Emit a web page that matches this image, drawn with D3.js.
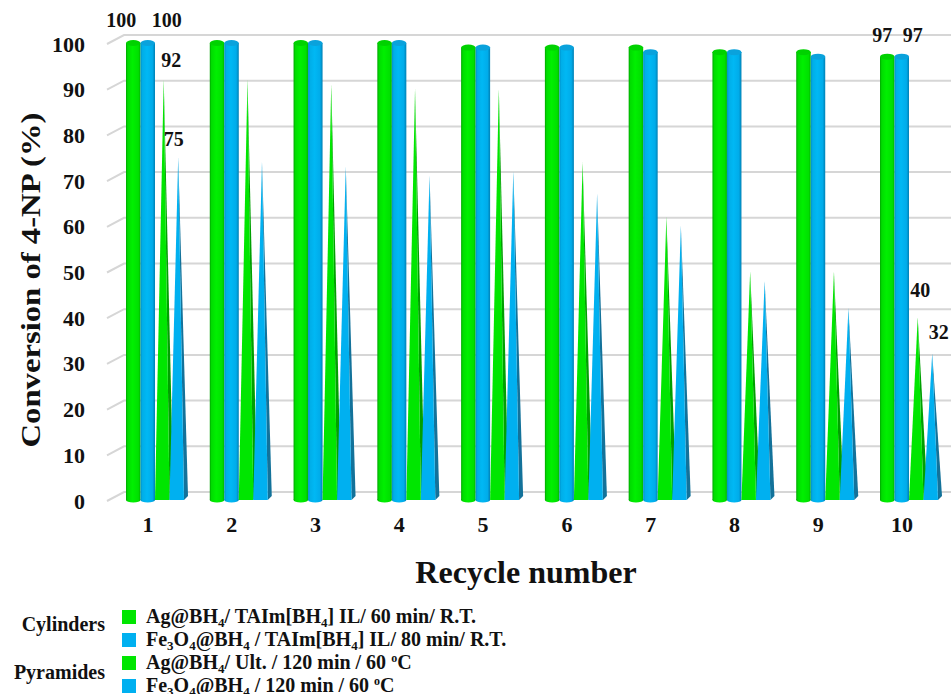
<!DOCTYPE html>
<html>
<head>
<meta charset="utf-8">
<script src="https://cdn.jsdelivr.net/npm/d3@7/dist/d3.min.js"></script>
<style>
  body { margin: 0; background: #fff; }
  text { font-family: "Liberation Serif", "DejaVu Serif", serif; font-weight: bold; fill: #111; }
</style>
</head>
<body>
<div id="chart"></div>
<script>
// data
var cycles = ["1", "2", "3", "4", "5", "6", "7", "8", "9", "10"];
var agCylinder = [100, 100, 100, 100, 99, 99, 99, 98, 98, 97];
var feCylinder = [100, 100, 100, 100, 99, 99, 98, 98, 97, 97];
var agPyramid = [92, 92, 91, 90, 90, 74, 62, 50, 50, 40];
var fePyramid = [75, 74, 73, 71, 72, 67, 60, 48, 42, 32];
var yTicks = [0, 10, 20, 30, 40, 50, 60, 70, 80, 90, 100];

var svgWidth = 951;
var svgHeight = 694;

var svg = d3.select("#chart")
  .append("svg")
  .attr("width", svgWidth)
  .attr("height", svgHeight);

var floorY = 500;

var yScale = d3.scaleLinear()
  .domain([0, 100])
  .range([floorY, 43]);

var xScale = d3.scaleBand()
  .domain(cycles)
  .range([126, 942])
  .paddingInner(0.26);

var sub = d3.scaleBand()
  .domain(["agC", "feC", "agP", "feP"])
  .range([0, 58]);

// gradients for the 3D look
var defs = svg.append("defs");
function hGrad(id, stops) {
  var g = defs.append("linearGradient").attr("id", id)
    .attr("x1", "0%").attr("x2", "100%").attr("y1", "0%").attr("y2", "0%");
  stops.forEach(function(s) {
    g.append("stop").attr("offset", s[0]).attr("stop-color", s[1]);
  });
}
hGrad("gCyl", [["0%", "#00a400"], ["12%", "#00dc00"], ["45%", "#00f000"], ["85%", "#00e000"], ["100%", "#00b400"]]);
hGrad("bCyl", [["0%", "#0090c8"], ["14%", "#00aee8"], ["45%", "#00b8f4"], ["82%", "#00acea"], ["100%", "#0080b4"]]);

// back-wall gridlines with the little floor diagonal on the left
svg.append("g").selectAll("path")
  .data(yTicks)
  .enter()
  .append("path")
  .attr("d", d => `M107,${yScale(d) + 1} L124,${yScale(d) - 8} H${svgWidth}`)
  .attr("fill", "none")
  .attr("stroke", "#d6d6d6")
  .attr("stroke-width", 2);

// axes
var leftAxis = d3.axisLeft(yScale).tickValues(yTicks).tickSize(0).tickPadding(0);
var yAxis = svg.append("g")
  .attr("transform", "translate(85, 1)")
  .call(leftAxis);
yAxis.select(".domain").remove();
yAxis.selectAll("text")
  .style("font-family", "Liberation Serif, serif")
  .style("font-weight", "bold")
  .style("font-size", "22px")
  .attr("fill", "#111");

var bottomAxis = d3.axisBottom(xScale).tickSize(0).tickPadding(0);
var xAxis = svg.append("g")
  .attr("transform", "translate(-9, 516)")
  .call(bottomAxis);
xAxis.select(".domain").remove();
xAxis.selectAll("text")
  .style("font-family", "Liberation Serif, serif")
  .style("font-weight", "bold")
  .style("font-size", "22px")
  .attr("fill", "#111");

// cylinders
function drawCylinders(values, key, fill, capFill) {
  var w = sub.bandwidth();
  var g = svg.append("g");
  values.forEach(function(v, i) {
    var x0 = xScale(cycles[i]) + sub(key);
    g.append("ellipse")
      .attr("cx", x0 + w / 2).attr("cy", floorY)
      .attr("rx", w / 2).attr("ry", 2.5)
      .attr("fill", `url(#${fill})`);
    g.append("rect")
      .attr("x", x0).attr("y", yScale(v))
      .attr("width", w).attr("height", floorY - yScale(v))
      .attr("fill", `url(#${fill})`);
    g.append("ellipse")
      .attr("cx", x0 + w / 2).attr("cy", yScale(v))
      .attr("rx", w / 2).attr("ry", 3)
      .attr("fill", capFill);
  });
}
drawCylinders(agCylinder, "agC", "gCyl", "#00d200");
drawCylinders(feCylinder, "feC", "bCyl", "#0aa2dc");

// pyramids: front face plus a darker right face
function drawPyramids(values, key, front, side) {
  var w = sub.bandwidth();
  var g = svg.append("g");
  values.forEach(function(v, i) {
    var x0 = xScale(cycles[i]) + sub(key);
    var tipX = x0 + w * 0.6;
    var tipY = yScale(v);
    g.append("path")
      .attr("d", `M${x0 + w},${floorY} L${x0 + w + 4},${floorY - 4} L${tipX},${tipY} Z`)
      .attr("fill", side);
    g.append("path")
      .attr("d", `M${x0},${floorY} L${x0 + w},${floorY} L${tipX},${tipY} Z`)
      .attr("fill", front);
  });
}
drawPyramids(agPyramid, "agP", "#00e600", "#00a000");
drawPyramids(fePyramid, "feP", "#00b0f0", "#13729a");

// value labels on first and last cycle
var labels = [
  { series: agCylinder, key: "agC", i: 0, dx: -12, dy: -16 },
  { series: feCylinder, key: "feC", i: 0, dx: 19, dy: -16 },
  { series: agPyramid, key: "agP", i: 0, dx: 9, dy: -13 },
  { series: fePyramid, key: "feP", i: 0, dx: -3, dy: -11 },
  { series: agCylinder, key: "agC", i: 9, dx: -5, dy: -15 },
  { series: feCylinder, key: "feC", i: 9, dx: 11, dy: -15 },
  { series: agPyramid, key: "agP", i: 9, dx: 4, dy: -20 },
  { series: fePyramid, key: "feP", i: 9, dx: 8, dy: -15 }
];
svg.append("g").selectAll("text")
  .data(labels)
  .enter()
  .append("text")
  .attr("x", d => xScale(cycles[d.i]) + sub(d.key) + sub.bandwidth() / 2 + d.dx)
  .attr("y", d => yScale(d.series[d.i]) + d.dy)
  .attr("text-anchor", "middle")
  .style("font-size", "20px")
  .text(d => d.series[d.i]);

// axis titles
svg.append("text")
  .attr("transform", "translate(40, 280) rotate(-90)")
  .attr("text-anchor", "middle")
  .attr("textLength", 335)
  .attr("lengthAdjust", "spacingAndGlyphs")
  .style("font-size", "28px")
  .text("Conversion of 4-NP (%)");

svg.append("text")
  .attr("x", 526)
  .attr("y", 583)
  .attr("text-anchor", "middle")
  .style("font-size", "32px")
  .text("Recycle number");

// legend
var legendRows = [
  { color: "#00e600", parts: [["Ag@BH"], ["4", "sub"], ["/ TAIm[BH"], ["4", "sub"], ["] IL/ 60 min/ R.T."]] },
  { color: "#00b0f0", parts: [["Fe"], ["3", "sub"], ["O"], ["4", "sub"], ["@BH"], ["4", "sub"], [" / TAIm[BH"], ["4", "sub"], ["] IL/ 80 min/ R.T."]] },
  { color: "#00e600", parts: [["Ag@BH"], ["4", "sub"], ["/ Ult. / 120 min / 60 "], ["o", "sup"], ["C"]] },
  { color: "#00b0f0", parts: [["Fe"], ["3", "sub"], ["O"], ["4", "sub"], ["@BH"], ["4", "sub"], [" / 120 min / 60 "], ["o", "sup"], ["C"]] }
];
var groupNames = ["Cylinders", "Pyramides"];
var groupY = [631, 679];

var legend = svg.append("g");
groupNames.forEach(function(name, i) {
  legend.append("text")
    .attr("x", 105).attr("y", groupY[i])
    .attr("text-anchor", "end")
    .style("font-size", "20px")
    .text(name);
});

var rowY = [617, 640, 663, 686];
legendRows.forEach(function(row, i) {
  legend.append("rect")
    .attr("x", 122).attr("y", rowY[i] - 7)
    .attr("width", 14).attr("height", 14)
    .attr("fill", row.color);
  var t = legend.append("text")
    .attr("x", 146).attr("y", rowY[i] + 6)
    .style("font-size", "20px");
  row.parts.forEach(function(p) {
    var span = t.append("tspan").text(p[0]);
    if (p[1] === "sub") {
      span.attr("baseline-shift", "-4").style("font-size", "13px");
    } else if (p[1] === "sup") {
      span.attr("baseline-shift", "7").style("font-size", "12px");
    }
  });
});
</script>
</body>
</html>
